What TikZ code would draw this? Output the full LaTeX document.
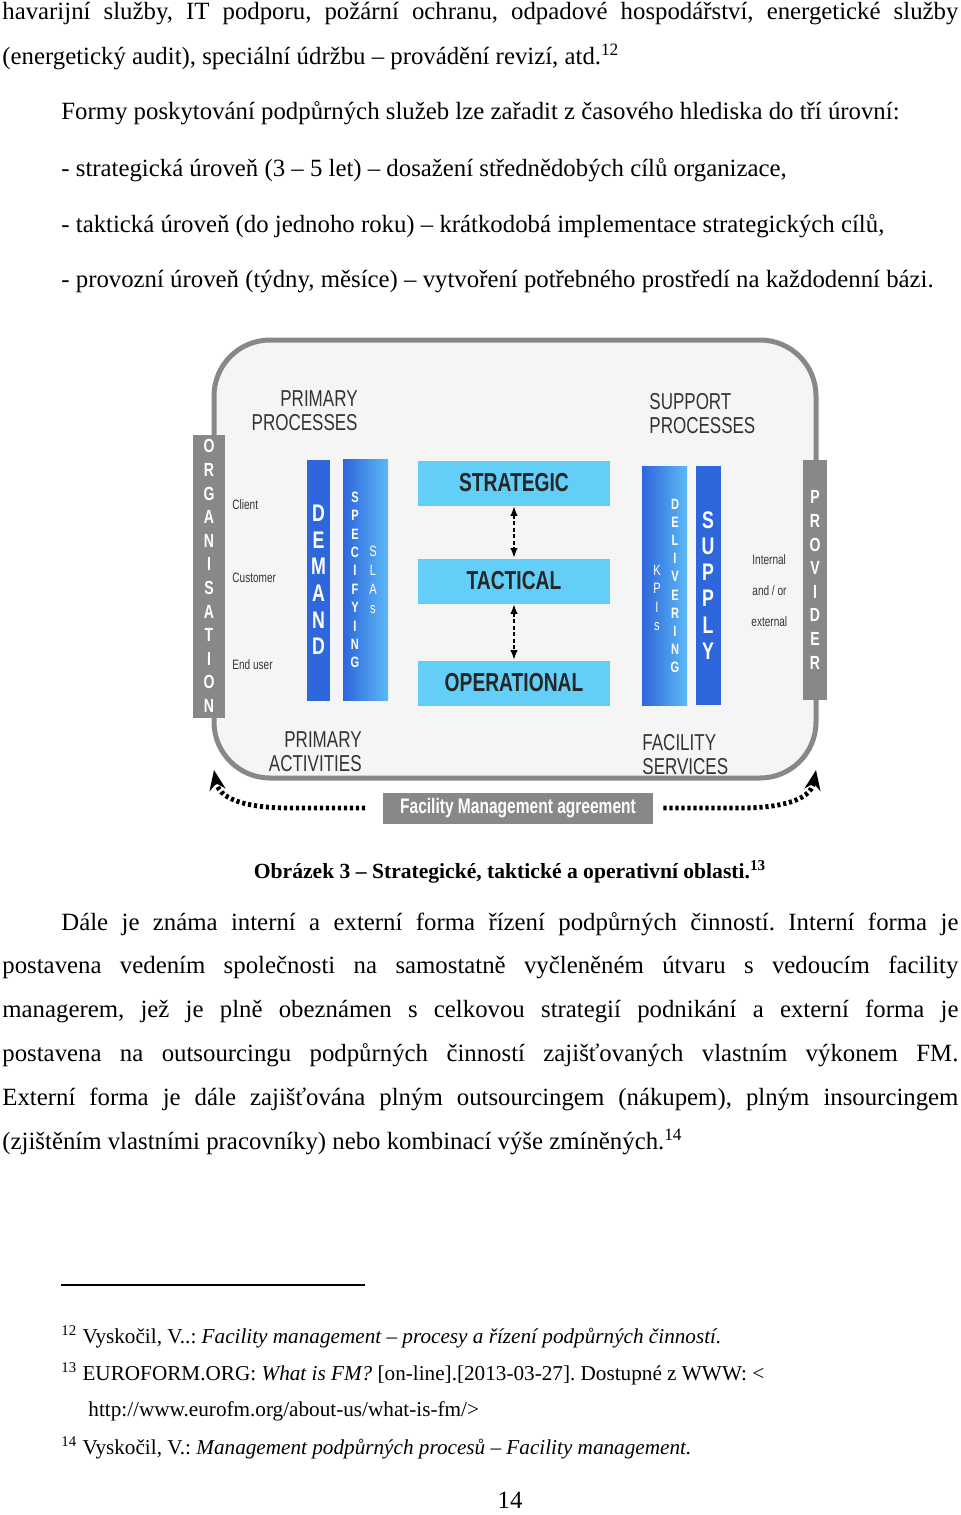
\documentclass[tikz,border=0pt]{standalone}
\usepackage{fontspec}
\setmainfont{Liberation Serif}
\newfontfamily\narrow[FakeStretch=0.74]{Liberation Sans}
\usetikzlibrary{arrows.meta,positioning}
\definecolor{boxgray}{HTML}{888888}
\definecolor{deepblue}{HTML}{2E66DC}
\definecolor{skyblue}{HTML}{63CEF7}
\definecolor{paleblue}{HTML}{5CB8F5}
\frenchspacing
\tikzset{
  line/.style={anchor=west,inner sep=0pt,font=\fontsize{12.4}{14}\selectfont},
  foot/.style={anchor=west,inner sep=0pt,font=\fontsize{10.6}{12}\selectfont},
  graybar/.style={fill=boxgray,text=white,inner sep=0pt,align=center,font=\narrow\bfseries\fontsize{9.5}{11.8}\selectfont},
  level/.style={fill=skyblue,inner sep=0pt,minimum width=96pt,minimum height=22.5pt,font=\narrow\bfseries\fontsize{13}{14}\selectfont,text=black!85},
  label/.style={inner sep=0pt,align=left,font=\narrow\fontsize{11.5}{12}\selectfont,text=black!80},
  small/.style={inner sep=0pt,anchor=west,font=\narrow\fontsize{6.8}{8}\selectfont,text=black!80},
  linkarrow/.style={line width=2.4pt,dash pattern=on 1.6pt off 1.4pt,-{Stealth[length=10pt,width=8pt]}},
  levelarrow/.style={line width=1.3pt,dash pattern=on 2pt off 1.2pt,{Latex[length=5pt]}-{Latex[length=5pt]}}
}
\newcommand{\fullline}[1]{\makebox[478pt][s]{#1}}
\begin{document}
\begin{tikzpicture}[x=0.5pt,y=-0.5pt]
\useasboundingbox (0,0) rectangle (960,1515);

\node[line] (t1) at (2,14) {\fullline{havarijní služby, IT podporu, požární ochranu, odpadové hospodářství, energetické služby}};
\node[line] (t2) at (2,57) {(energetický audit), speciální údržbu – provádění revizí, atd.\textsuperscript{12}};
\node[line] (t3) at (61,113) {Formy poskytování podpůrných služeb lze zařadit z časového hlediska do tří úrovní:};
\node[line] (t4) at (61,170) {- strategická úroveň (3 – 5 let) – dosažení střednědobých cílů organizace,};
\node[line] (t5) at (61,226) {- taktická úroveň (do jednoho roku) – krátkodobá implementace strategických cílů,};
\node[line] (t6) at (61,282) {- provozní úroveň (týdny, měsíce) – vytvoření potřebného prostředí na každodenní bázi.};

% diagram
\draw[boxgray,line width=2.5pt,fill=gray!8,rounded corners=28pt] (214,340) rectangle (816,778);
\node[label,align=right,anchor=north east] (pp) at (358,390) {PRIMARY\\PROCESSES};
\node[label,anchor=north west] (sp) at (649,393) {SUPPORT\\PROCESSES};
\node[label,align=right,anchor=north east] (pa) at (362,731) {PRIMARY\\ACTIVITIES};
\node[label,anchor=north west] (fs) at (642,734) {FACILITY\\SERVICES};

\node[graybar,minimum width=16pt,minimum height=141.5pt] (org) at (209,576) {O\\R\\G\\A\\N\\I\\S\\A\\T\\I\\O\\N};
\node[graybar,minimum width=12pt,minimum height=120pt] (prov) at (815,580) {P\\R\\O\\V\\I\\D\\E\\R};

\node[small] (client) at (232,505) {Client};
\node[small] (cust) at (232,578) {Customer};
\node[small] (end) at (232,665) {End user};
\node[small] (int) at (752,560) {Internal};
\node[small] (andor) at (752,591) {and / or};
\node[small] (ext) at (751,622) {external};

\node[fill=deepblue,text=white,inner sep=0pt,minimum width=11.5pt,minimum height=120.5pt,align=center,font=\narrow\bfseries\fontsize{12}{13.3}\selectfont] (demand) at (318.5,580) {D\\E\\M\\A\\N\\D};
\shade[left color=deepblue,right color=paleblue] (343,459) rectangle (388,700);
\node[text=white,inner sep=0pt,align=center,font=\narrow\bfseries\fontsize{7.5}{9.2}\selectfont] (spec) at (355,580) {S\\P\\E\\C\\I\\F\\Y\\I\\N\\G};
\node[text=white,inner sep=0pt,align=center,font=\narrow\fontsize{7.5}{9.5}\selectfont] (slas) at (373,580) {S\\L\\A\\s};

\shade[left color=deepblue,right color=paleblue] (642,466) rectangle (687,705);
\node[text=white,inner sep=0pt,align=center,font=\narrow\fontsize{7.5}{9.2}\selectfont] (kpis) at (657,598) {K\\P\\I\\s};
\node[text=white,inner sep=0pt,align=center,font=\narrow\bfseries\fontsize{7.5}{9.1}\selectfont] (deliv) at (675,586) {D\\E\\L\\I\\V\\E\\R\\I\\N\\G};
\node[fill=deepblue,text=white,inner sep=0pt,minimum width=12.5pt,minimum height=119.5pt,align=center,font=\narrow\bfseries\fontsize{12}{13.1}\selectfont] (supply) at (708,585.5) {S\\U\\P\\P\\L\\Y};

\node[level] (strat) at (514,483) {STRATEGIC};
\node[level] (tact) at (514,581) {TACTICAL};
\node[level] (oper) at (514,683) {OPERATIONAL};
\draw[levelarrow] (strat) -- (tact);
\draw[levelarrow] (tact) -- (oper);

\node[fill=boxgray,text=white,inner sep=0pt,minimum width=135pt,minimum height=15.5pt,font=\narrow\bfseries\fontsize{10.5}{12}\selectfont] (fma) at (518,808) {Facility Management agreement};
\coordinate (orgend) at (214,770);
\coordinate (provend) at (816,770);
\draw[linkarrow] (365,808) -- (290,808) to[out=180,in=-80] (orgend);
\draw[linkarrow] (fma.east) ++(10,0) -- (740,808) to[out=0,in=-100] (provend);

\node[inner sep=0pt,font=\bfseries\fontsize{10.8}{12}\selectfont] (cap) at (510,872) {Obrázek 3 – Strategické, taktické a operativní oblasti.\textsuperscript{13}};

\node[line] (p1) at (61,924) {\makebox[448.5pt][s]{Dále je známa interní a externí forma řízení podpůrných činností. Interní forma je}};
\node[line] (p2) at (2,967) {\fullline{postavena vedením společnosti na samostatně vyčleněném útvaru s~vedoucím facility}};
\node[line] (p3) at (2,1011) {\fullline{managerem, jež je plně obeznámen s~celkovou strategií podnikání a externí forma je}};
\node[line] (p4) at (2,1055) {\fullline{postavena na outsourcingu podpůrných činností zajišťovaných vlastním výkonem FM.}};
\node[line] (p5) at (2,1099) {\fullline{Externí forma je dále zajišťována plným outsourcingem (nákupem), plným insourcingem}};
\node[line] (p6) at (2,1142) {(zjištěním vlastními pracovníky) nebo kombinací výše zmíněných.\textsuperscript{14}};

\draw[line width=0.6pt] (61,1285) -- (365,1285);
\node[foot] (f12) at (61,1337) {\textsuperscript{12} Vyskočil, V..: \textit{Facility management – procesy a řízení podpůrných činností.}};
\node[foot] (f13) at (61,1374) {\textsuperscript{13} EUROFORM.ORG: \textit{What is FM?} [on-line].[2013-03-27]. Dostupné z WWW: <};
\node[foot] (f13b) at (88,1411) {http://www.eurofm.org/about-us/what-is-fm/>};
\node[foot] (f14) at (61,1448) {\textsuperscript{14} Vyskočil, V.: \textit{Management podpůrných procesů – Facility management.}};
\node[inner sep=0pt,font=\fontsize{12.4}{14}\selectfont] (page) at (510,1500) {14};
\end{tikzpicture}
\end{document}
